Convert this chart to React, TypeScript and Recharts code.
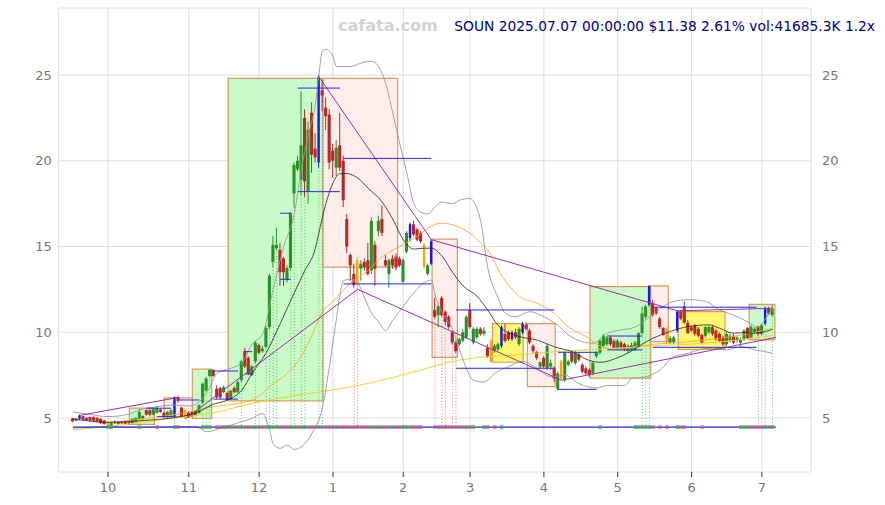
import React from "react";
import {
  ComposedChart,
  Bar,
  Line,
  Scatter,
  XAxis,
  YAxis,
  CartesianGrid,
  ReferenceArea,
  ReferenceLine,
} from "recharts";

// ─── Daily candles (trading-day index 0 = 2024-09-17) ─────────────

const opens = [
  4.98, 4.85, 4.95, 5.1, 5.0, 5.05, 5.05, 5.0, 4.95, 4.85,
  4.75, 4.55, 4.8, 4.78, 4.75, 4.8, 4.75, 4.7, 4.78, 4.95,
  5.1, 5.45, 5.45, 5.2, 5.3, 5.5, 5.3, 5.05, 5.15, 5.1,
  6.2, 5.6, 5.45, 5.3, 5.35, 5.15, 5.3, 5.9, 6.6, 7.45,
  7.8, 6.7, 6.75, 6.5, 6.46, 6.1, 6.75, 6.5, 7.2, 8.9,
  8.5, 7.5, 8.3, 9.25, 8.9, 9.15, 10.3, 14.1, 14.9, 14.8,
  14.3, 13.05, 13.75, 18.1, 19.5, 18.9, 22.5, 18.2, 22.8, 20.7,
  19.9, 24.1, 23.1, 22.7, 20.6, 19.6, 20.9, 20.0, 16.6, 14.5,
  13.4, 14.2, 13.7, 14.1, 14.2, 13.6, 15.1, 15.9, 16.6, 14.2,
  13.4, 14.3, 14.4, 14.3, 12.95, 14.7, 15.5, 16.3, 16.0, 15.8,
  15.1, 13.4, 14.0, 11.3, 11.0, 12.0, 11.2, 10.9, 10.0, 9.4,
  9.3, 9.5, 9.7, 11.3, 9.4, 9.7, 10.2, 9.9, 9.1, 9.5,
  8.9, 9.0, 9.2, 9.9, 10.0, 9.6, 10.0, 9.3, 10.0, 10.45,
  10.1, 9.2, 8.85, 8.0, 8.5, 7.9, 8.0, 7.9, 6.7, 8.3,
  7.2, 8.1, 8.8, 8.2, 8.7, 8.1, 7.9, 7.8, 7.6, 8.6,
  8.8, 9.2, 9.3, 9.7, 9.5, 9.1, 9.4, 9.3, 8.9, 9.0,
  9.0, 9.15, 9.95, 10.9, 11.6, 11.7, 11.4, 10.8, 10.25, 10.2,
  9.4, 9.4, 10.1, 11.2, 11.5, 10.55, 10.3, 10.4, 10.2, 9.85,
  9.8, 10.0, 10.3, 10.1, 9.9, 9.7, 9.3, 9.5, 9.8, 9.5,
  9.4, 9.6, 10.25, 9.7, 10.0, 10.3, 9.9, 10.5, 11.4, 11.0,
];

const highs = [
  5.0, 5.0, 5.2, 5.12, 5.05, 5.08, 5.1, 5.05, 4.98, 4.9,
  4.8, 4.8, 4.85, 4.8, 4.8, 4.85, 4.78, 5.0, 5.05, 5.5,
  5.15, 5.5, 5.5, 5.6, 5.7, 5.55, 5.35, 5.4, 5.5, 6.25,
  6.3, 5.65, 5.5, 5.4, 5.4, 5.45, 5.8, 7.05, 7.4, 7.85,
  7.85, 6.9, 6.8, 6.9, 6.55, 6.65, 6.85, 7.2, 8.4, 9.1,
  8.6, 8.1, 9.5, 9.35, 9.2, 10.4, 13.4, 15.6, 16.1, 15.2,
  14.4, 13.9, 17.0, 19.9, 20.3, 24.05, 23.0, 22.3, 23.4, 21.6,
  25.0, 24.7, 23.7, 23.0, 21.0, 21.2, 22.8, 20.3, 16.9, 14.6,
  14.0, 14.4, 14.2, 14.3, 15.2, 16.7, 15.3, 16.8, 17.4, 14.5,
  14.3, 14.5, 14.6, 14.4, 14.3, 15.9, 16.4, 16.5, 16.1, 15.9,
  15.2, 14.0, 15.4, 12.0, 11.6, 12.1, 11.3, 11.0, 10.1, 9.5,
  9.7, 10.2, 11.0, 11.7, 10.3, 10.3, 10.3, 10.3, 9.3, 9.6,
  9.3, 9.4, 10.4, 10.5, 10.1, 10.1, 10.2, 10.3, 10.6, 10.6,
  10.2, 9.3, 8.9, 8.3, 8.6, 9.3, 8.4, 8.0, 7.7, 8.4,
  8.9, 8.4, 8.9, 8.9, 8.8, 8.2, 8.0, 7.9, 8.3, 8.9,
  9.6, 9.9, 9.8, 9.8, 9.6, 9.6, 9.5, 9.4, 9.3, 9.4,
  9.5, 10.0, 11.5, 11.6, 12.75, 11.9, 11.5, 10.9, 10.3, 10.3,
  9.8, 9.8, 11.3, 11.3, 11.8, 10.7, 10.4, 10.5, 10.3, 9.9,
  10.35, 10.4, 10.4, 10.2, 10.0, 9.8, 10.0, 9.9, 9.9, 9.8,
  9.7, 10.2, 10.3, 10.4, 10.3, 10.4, 10.5, 11.5, 11.5, 11.6,
];

const lows = [
  4.75, 4.8, 4.9, 4.85, 4.85, 4.8, 4.8, 4.75, 4.65, 4.6,
  4.5, 4.5, 4.65, 4.6, 4.65, 4.6, 4.62, 4.65, 4.75, 4.9,
  4.9, 5.15, 5.1, 5.15, 5.25, 5.3, 5.0, 5.0, 5.1, 5.05,
  5.9, 5.05, 4.95, 5.0, 5.05, 5.1, 5.25, 5.85, 6.55, 7.4,
  7.4, 6.1, 6.1, 6.45, 6.0, 6.05, 6.45, 6.45, 7.1, 7.9,
  7.5, 7.45, 8.2, 8.7, 8.8, 9.1, 10.2, 13.8, 14.8, 12.7,
  12.7, 12.9, 13.6, 17.3, 19.4, 18.0, 17.9, 17.5, 19.3, 19.9,
  19.6, 22.9, 21.8, 19.5, 19.0, 19.1, 19.4, 17.3, 14.6, 13.0,
  12.6, 12.5, 13.0, 13.6, 13.3, 13.4, 12.7, 15.6, 15.6, 13.8,
  12.6, 13.7, 13.6, 13.8, 12.9, 14.6, 15.3, 15.6, 15.3, 15.2,
  13.7, 13.3, 13.9, 10.8, 10.3, 10.9, 10.4, 10.2, 9.3, 8.8,
  9.2, 9.4, 9.6, 10.2, 9.3, 9.6, 9.8, 9.8, 8.5, 8.2,
  8.8, 8.9, 9.1, 9.4, 9.5, 9.5, 9.6, 9.2, 9.9, 10.1,
  9.3, 8.8, 8.4, 7.9, 7.9, 7.8, 7.8, 7.1, 6.6, 7.2,
  7.1, 8.0, 8.2, 8.1, 8.3, 7.6, 7.5, 7.4, 7.5, 8.5,
  8.7, 9.1, 9.2, 9.2, 9.0, 9.0, 9.0, 8.9, 8.8, 8.9,
  8.9, 9.1, 9.9, 10.8, 11.5, 10.9, 11.0, 10.2, 9.8, 9.3,
  9.3, 9.3, 10.0, 10.7, 10.5, 9.9, 10.0, 9.8, 9.7, 9.3,
  9.7, 9.9, 9.8, 9.5, 9.4, 9.2, 9.2, 9.4, 9.3, 9.4,
  9.2, 9.5, 9.6, 9.6, 9.9, 9.8, 9.8, 10.4, 11.0, 10.9,
];

const closes = [
  4.8, 4.95, 5.15, 4.9, 4.88, 4.85, 4.85, 4.8, 4.7, 4.65,
  4.55, 4.75, 4.7, 4.66, 4.7, 4.66, 4.7, 4.95, 5.0, 5.35,
  4.98, 5.2, 5.2, 5.5, 5.6, 5.35, 5.05, 5.35, 5.45, 6.2,
  6.0, 5.1, 5.0, 5.05, 5.1, 5.4, 5.75, 7.0, 7.3, 7.8,
  7.45, 6.2, 6.2, 6.8, 6.05, 6.6, 6.5, 7.1, 8.3, 8.0,
  7.6, 8.0, 9.4, 8.8, 9.05, 10.25, 13.3, 15.1, 15.1, 13.5,
  13.5, 13.75, 16.95, 19.75, 20.0, 20.9, 18.8, 21.8, 20.35, 20.2,
  24.9, 23.8, 22.6, 19.9, 20.0, 20.75, 19.6, 17.7, 15.0, 13.9,
  12.75, 12.8, 14.0, 13.8, 13.4, 16.5, 13.7, 16.5, 15.8, 13.9,
  14.2, 13.9, 13.8, 13.9, 14.2, 15.8, 16.3, 15.7, 15.4, 15.3,
  13.8, 13.9, 15.3, 10.9, 11.5, 11.0, 10.6, 10.3, 9.4, 8.9,
  9.6, 10.0, 10.9, 10.3, 10.2, 10.2, 9.9, 10.1, 8.6, 8.3,
  9.2, 9.3, 10.3, 9.5, 9.6, 10.0, 9.7, 10.2, 10.5, 10.2,
  9.4, 8.9, 8.5, 8.25, 8.0, 9.2, 8.2, 7.3, 7.6, 7.3,
  8.8, 8.3, 8.3, 8.8, 8.4, 7.7, 7.6, 7.5, 8.2, 8.85,
  9.5, 9.8, 9.7, 9.3, 9.1, 9.5, 9.1, 9.0, 9.2, 9.25,
  9.4, 9.95, 11.1, 11.5, 12.7, 11.0, 11.1, 10.3, 9.85, 9.4,
  9.65, 9.7, 11.2, 10.8, 10.55, 9.95, 10.1, 9.9, 9.8, 9.4,
  10.3, 10.3, 9.9, 9.6, 9.5, 9.3, 9.9, 9.8, 9.4, 9.7,
  9.6, 10.1, 9.65, 10.3, 10.2, 9.9, 10.4, 11.4, 11.09, 11.38,
];

const blueBars = [2, 29, 70, 96, 102, 122, 125, 128, 164, 172, 197];
const orangeBars = [10, 32, 81, 100, 119, 139, 169];

// ─── Axis ticks ────────────────────────────────────────────────

const monthTicks = [10, 33, 53, 74, 94, 113, 134, 155, 176, 196];
const monthLabels = ["10", "11", "12", "1", "2", "3", "4", "5", "6", "7"];
const priceTicks = [5, 10, 15, 20, 25];

// ─── Indicator lines, read as [index, value] ───────────────────

const maPts = [
  [0, 4.95], [10, 4.75], [20, 4.85], [28, 5.0], [35, 5.3], [40, 5.8], [44, 6.05],
  [48, 6.6], [51, 7.6], [55, 8.8], [59, 10.5], [63, 12.3], [66, 13.6], [69, 14.9],
  [70, 15.8], [72, 17.5], [74, 18.7], [76, 19.25], [78, 19.25], [81, 19.0], [84, 18.4],
  [88, 17.6], [91, 16.6], [94, 15.4], [97, 14.85], [100, 14.9], [102, 14.9], [105, 14.45],
  [108, 13.5], [111, 12.7], [115, 12.1], [118, 11.3], [121, 10.4], [127, 9.75], [132, 9.55],
  [137, 9.15], [142, 8.87], [147, 8.35], [150, 8.25], [156, 8.6], [165, 9.65], [170, 10.05],
  [175, 10.33], [181, 10.43], [184, 10.23], [188, 9.94], [191, 9.98], [193, 9.94],
  [197, 10.04], [199, 10.17],
];

const bandUpPts = [
  [0, 5.35], [5, 5.2], [10, 5.08], [16, 5.23], [19, 5.47], [24, 5.66], [29, 5.76],
  [33, 5.7], [36, 5.95], [39, 6.8], [41, 7.6], [45, 7.9], [48, 8.2], [51, 9.3], [54, 9.9],
  [57, 12.5], [60, 15.0], [63, 16.9], [65, 19.5], [67, 21.5], [69, 23.3], [70, 25.0],
  [71, 26.4], [72, 26.5], [74, 26.1], [75, 25.5], [79, 25.5], [82, 25.7], [85, 25.8],
  [87, 25.5], [89, 24.5], [91, 22.8], [93, 21.0], [95, 19.3], [97, 17.5], [99, 17.0],
  [101, 16.9], [103, 17.3], [105, 17.6], [108, 17.5], [110, 17.7], [113, 17.8],
  [115, 17.2], [116, 16.5], [118, 13.8], [121, 12.0], [123, 11.1], [126, 10.9],
  [130, 11.2], [134, 10.9], [138, 10.4], [141, 9.84], [145, 9.45], [148, 9.36],
  [152, 9.94], [156, 10.13], [160, 10.3], [164, 10.9], [168, 11.5], [171, 11.8],
  [175, 11.9], [180, 11.8], [184, 11.3], [188, 11.0], [192, 10.6], [195, 10.3],
  [196, 10.5], [198, 11.1], [199, 11.4],
];

const bandLoPts = [
  [0, 4.4], [10, 4.5], [20, 4.45], [30, 4.5], [35, 4.5], [38, 4.2], [42, 4.4], [48, 4.78],
  [51, 4.98], [54, 5.27], [55, 4.9], [56, 4.3], [57, 3.5], [59, 3.23], [61, 3.42],
  [63, 3.17], [66, 3.5], [68, 4.1], [71, 5.6], [73, 8.0], [75, 10.8], [77, 13.0],
  [79, 13.1], [81, 12.9], [83, 12.0], [85, 11.1], [87, 10.6], [89, 10.1], [91, 10.7],
  [94, 11.5], [97, 12.3], [100, 12.9], [102, 13.05], [103, 12.2], [105, 11.2],
  [108, 10.2], [111, 8.4], [114, 7.2], [117, 7.1], [120, 7.6], [124, 8.0], [128, 8.3],
  [132, 7.9], [136, 7.4], [140, 7.5], [144, 7.0], [149, 6.75], [152, 6.9], [157, 6.9],
  [159, 7.3], [163, 7.4], [167, 7.8], [171, 8.58], [175, 8.77], [178, 8.97], [182, 9.07],
  [186, 8.97], [190, 9.16], [194, 8.97], [197, 8.87], [199, 8.77],
];

const midMaPts = [
  [10, 4.7], [20, 4.95], [32, 5.3], [40, 5.66], [47, 5.85], [52, 6.15], [57, 7.0],
  [61, 7.6], [65, 8.6], [68, 9.8], [71, 11.2], [74, 11.8], [79, 12.86], [84, 13.6],
  [88, 14.4], [93, 15.0], [98, 15.6], [102, 16.2], [105, 16.36], [109, 16.2],
  [113, 15.77], [116, 15.2], [118, 14.8], [122, 13.3], [127, 12.1], [132, 11.7],
  [137, 11.1], [141, 10.3], [146, 9.75], [150, 9.2], [155, 9.0], [163, 9.25],
  [175, 9.45], [184, 9.65], [192, 9.9], [199, 10.23],
];

const slowMaPts = [
  [0, 4.3], [10, 4.5], [29, 5.0], [40, 5.3], [51, 5.85], [63, 6.3], [76, 6.7],
  [88, 7.2], [99, 7.8], [108, 8.3], [118, 8.58], [127, 8.68], [137, 8.87],
  [146, 8.97], [155, 9.07], [165, 9.2], [175, 9.3], [185, 9.45], [199, 9.8],
];

// ─── Overlays: boxes [x1, x2, lowPrice, highPrice] ─────────────

const greenBoxes = [
  [16.1, 23.2, 4.63, 5.57],
  [34, 39.5, 4.98, 7.85],
  [44.2, 71.2, 6.0, 24.8],
  [147.1, 164.4, 7.32, 12.66],
  [192.4, 199.7, 9.55, 11.63],
];
const pinkBoxes = [
  [26, 34, 5.08, 6.17],
  [71.2, 92.4, 13.8, 24.8],
  [102.2, 109.4, 8.54, 15.43],
  [129.3, 137.2, 6.83, 10.5],
  [164.4, 169.4, 9.45, 12.7],
];
const yellowBoxes = [
  [119.4, 128.1, 8.25, 10.5],
  [172.2, 185.5, 9.0, 11.2],
];

// [x1, x2, price]
const levelLines = [
  [21, 28, 5.57], [24, 28.6, 5.08], [30, 36, 6.05], [40, 47, 7.74], [40, 47, 6.1],
  [49, 51, 8.87], [49, 51, 7.57], [59, 62, 16.94], [59, 62, 13.09], [64, 76, 24.24],
  [64, 76, 18.2], [77, 102, 20.14], [77, 102, 12.82], [109, 137, 11.3], [109, 137, 7.9],
  [138, 149, 8.83], [138, 149, 6.67], [152, 162, 9.78], [152, 162, 8.97],
  [165, 194.5, 11.46], [165, 194.5, 9.12],
];

// [x1, y1, x2, y2]
const trendLines = [
  [2, 5.15, 30, 6.2],
  [32, 4.95, 81, 12.5],
  [81, 12.5, 139, 7.2],
  [139, 7.2, 200, 9.7],
  [70, 24.9, 102, 15.4],
  [102, 15.4, 172, 11.25],
  [172, 11.25, 199, 11.4],
];

const BASE_LEVEL = 4.47;
const greenDrops = [29, 37, 38, 39, 48, 52, 55, 56, 57, 58, 62, 63, 65, 66, 70, 71, 162, 163, 164, 195, 197, 199];
const redDrops = [80, 81, 103, 105, 106, 108, 109];

const greenMarks = [
  10, 11, 19, 29, 37, 38, 39, 43, 45, 47, 48, 51, 52, 55, 56, 57, 58, 62, 63, 65, 66,
  70, 71, 75, 85, 87, 90, 94, 95, 112, 114, 117, 122, 150, 160, 161, 162, 163, 164,
  172, 190, 191, 192, 197, 199,
];
const redMarks = [
  24, 30, 41, 42, 44, 46, 49, 50, 53, 54, 59, 60, 61, 64, 67, 68, 69, 72, 73, 74, 76,
  77, 78, 79, 80, 81, 82, 83, 84, 86, 88, 89, 91, 92, 93, 96, 97, 98, 99, 103, 104,
  105, 106, 107, 108, 109, 110, 111, 113, 118, 120, 165, 167, 169, 173, 174, 179, 193,
  194, 195, 196, 198,
];

// ─── Build rows ────────────────────────────────────────────────

const rows: any[] = opens.map((o, i) => ({
  i,
  open: o,
  high: highs[i],
  low: lows[i],
  close: closes[i],
  range: [lows[i], highs[i]],
  kind: blueBars.includes(i) ? "blue" : orangeBars.includes(i) ? "orange" : "",
}));

const addPts = (key: string, pts: number[][]) =>
  pts.forEach(([i, v]) => {
    rows[i][key] = v;
  });
addPts("ma", maPts);
addPts("bbUp", bandUpPts);
addPts("bbLo", bandLoPts);
addPts("ma50", midMaPts);
addPts("ma200", slowMaPts);

const greenMarkData = greenMarks.map((i) => ({ i, v: BASE_LEVEL }));
const redMarkData = redMarks.map((i) => ({ i, v: BASE_LEVEL }));

const FONT = "DejaVu Sans";
const UP = "#259425";
const DOWN = "#bb2626";

function Candle(props: any) {
  const { x, y, width, height, payload } = props;
  if (!payload || height == null || isNaN(y)) return null;
  const { open, close, high, low, kind } = payload;
  const cx = x + width / 2;
  const span = high - low || 1;
  const toY = (v: number) => y + ((high - v) / span) * height;
  const color =
    kind === "blue" ? "#1414ff" : kind === "orange" ? "#ffa500" : close >= open ? UP : DOWN;
  const top = toY(Math.max(open, close));
  const bot = toY(Math.min(open, close));
  const bw = kind ? 2.4 : 3.1;
  return (
    <g>
      <line x1={cx} x2={cx} y1={y} y2={y + height} stroke={color} strokeWidth={1} />
      <rect x={cx - bw / 2} y={top} width={bw} height={Math.max(bot - top, 1)} fill={color} />
    </g>
  );
}

const markShape = (color: string) => (p: any) =>
  <rect x={p.cx - 1.7} y={p.cy - 2} width={3.4} height={4} fill={color} />;

export default function App() {
  return (
    <div style={{ position: "absolute", left: 0, top: 0, width: 885, height: 505, background: "#fff" }}>
      <ComposedChart
        width={885}
        height={505}
        data={rows}
        margin={{ top: 8, right: 23.9, bottom: 3, left: 8.7 }}
      >
        <CartesianGrid stroke="#dedede" strokeWidth={1} />
        <XAxis
          dataKey="i"
          type="number"
          domain={[-4, 210]}
          allowDataOverflow
          ticks={monthTicks}
          interval={0}
          tickFormatter={(v: number) => monthLabels[monthTicks.indexOf(v)] ?? ""}
          axisLine={false}
          tickLine={{ stroke: "#333" }}
          tickSize={5}
          tickMargin={6}
          height={30}
          tick={{ fill: "#777", fontSize: 13, fontFamily: FONT }}
        />
        <YAxis
          domain={[1.85, 28.91]}
          allowDataOverflow
          ticks={priceTicks}
          axisLine={false}
          tickLine={false}
          tickSize={5}
          width={50}
          tick={{ fill: "#777", fontSize: 13, fontFamily: FONT }}
        />
        <YAxis
          yAxisId="right"
          orientation="right"
          domain={[1.85, 28.91]}
          allowDataOverflow
          ticks={priceTicks}
          axisLine={false}
          tickLine={false}
          tickSize={5}
          tickMargin={6}
          width={50}
          tick={{ fill: "#777", fontSize: 13, fontFamily: FONT, textAnchor: "start" }}
        />

        {greenBoxes.map(([x1, x2, y1, y2], k) => (
          <ReferenceArea key={`g${k}`} x1={x1} x2={x2} y1={y1} y2={y2} fill="#c9fbc9" fillOpacity={1} stroke="#dd9a5c" strokeWidth={1.2} />
        ))}
        {pinkBoxes.map(([x1, x2, y1, y2], k) => (
          <ReferenceArea key={`p${k}`} x1={x1} x2={x2} y1={y1} y2={y2} fill="#fdeeec" fillOpacity={1} stroke="#dd9a5c" strokeWidth={1.2} />
        ))}
        {yellowBoxes.map(([x1, x2, y1, y2], k) => (
          <ReferenceArea key={`y${k}`} x1={x1} x2={x2} y1={y1} y2={y2} fill="#fff870" fillOpacity={1} stroke="#dd9a5c" strokeWidth={1.2} />
        ))}

        {greenDrops.map((i) => (
          <ReferenceLine key={`gd${i}`} segment={[{ x: i, y: lows[i] }, { x: i, y: BASE_LEVEL }]} stroke="#4cae4c" strokeDasharray="1 2" strokeWidth={0.8} />
        ))}
        {redDrops.map((i) => (
          <ReferenceLine key={`rd${i}`} segment={[{ x: i, y: lows[i] }, { x: i, y: BASE_LEVEL }]} stroke="#d9534f" strokeDasharray="1 2" strokeWidth={0.8} />
        ))}

        <Line dataKey="ma200" type="monotone" stroke="#f5d02a" strokeWidth={1} dot={false} activeDot={false} connectNulls isAnimationActive={false} />
        <Line dataKey="bbUp" type="monotone" stroke="#999" strokeWidth={0.9} dot={false} activeDot={false} connectNulls isAnimationActive={false} />
        <Line dataKey="bbLo" type="monotone" stroke="#999" strokeWidth={0.9} dot={false} activeDot={false} connectNulls isAnimationActive={false} />
        <Line dataKey="ma50" type="monotone" stroke="#ffa726" strokeWidth={0.9} dot={false} activeDot={false} connectNulls isAnimationActive={false} />
        <Line dataKey="ma" type="monotone" stroke="#222" strokeWidth={0.8} dot={false} activeDot={false} connectNulls isAnimationActive={false} />

        <Bar dataKey="range" barSize={3} shape={<Candle />} isAnimationActive={false} />

        {trendLines.map(([x1, y1, x2, y2], k) => (
          <ReferenceLine key={`t${k}`} segment={[{ x: x1, y: y1 }, { x: x2, y: y2 }]} stroke="#9b30a0" strokeWidth={1} />
        ))}
        {levelLines.map(([x1, x2, v], k) => (
          <ReferenceLine key={`l${k}`} segment={[{ x: x1, y: v }, { x: x2, y: v }]} stroke="#2424ff" strokeWidth={1} />
        ))}
        <ReferenceLine segment={[{ x: 0, y: BASE_LEVEL }, { x: 200, y: BASE_LEVEL }]} stroke="#2020ff" strokeWidth={1.3} />

        <Scatter data={greenMarkData} dataKey="v" shape={markShape("rgba(70,165,70,0.7)")} isAnimationActive={false} />
        <Scatter data={redMarkData} dataKey="v" shape={markShape("rgba(205,80,100,0.6)")} isAnimationActive={false} />
      </ComposedChart>

      <div
        style={{
          position: "absolute",
          left: 338,
          top: 16,
          fontFamily: FONT,
          fontWeight: "bold",
          fontSize: 16,
          color: "#d2d2d2",
        }}
      >
        cafata.com
      </div>
      <div
        style={{
          position: "absolute",
          right: 10,
          top: 18,
          fontFamily: FONT,
          fontSize: 13.8,
          color: "#00008b",
          whiteSpace: "nowrap",
        }}
      >
        SOUN 2025.07.07 00:00:00 $11.38 2.61% vol:41685.3K 1.2x
      </div>
    </div>
  );
}
